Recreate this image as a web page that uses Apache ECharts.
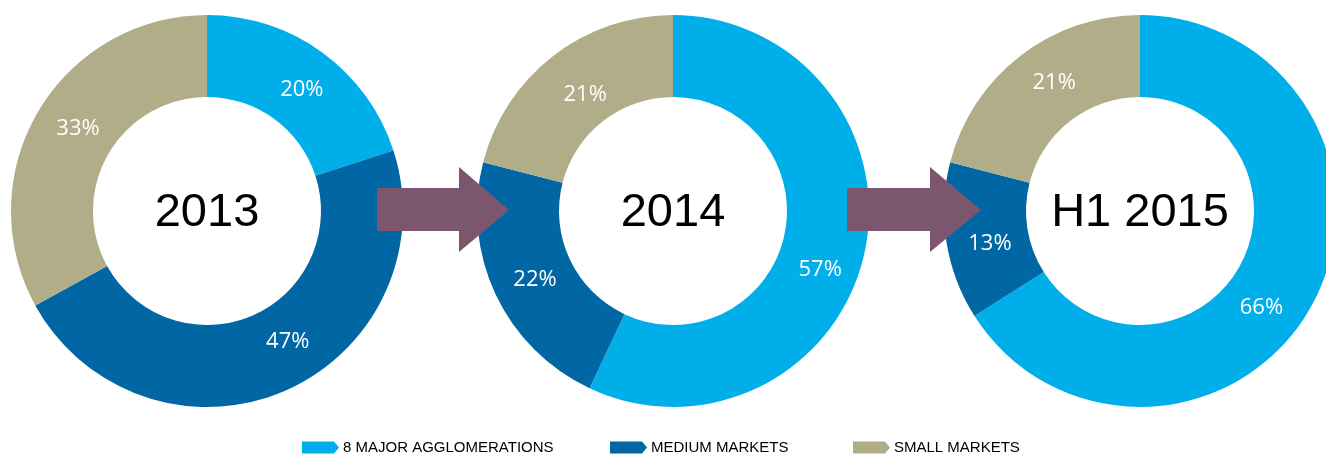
<!DOCTYPE html>
<html>
<head>
<meta charset="utf-8">
<script src="https://cdn.jsdelivr.net/npm/echarts@6/dist/echarts.min.js"></script>
<style>
html,body{margin:0;padding:0;background:#fff;}
#c{width:1326px;height:454px;}
</style>
</head>
<body>
<div id="c"></div>
<script>
// Data
var periods = ['2013', '2014', 'H1 2015'];
var segments = ['8 MAJOR AGGLOMERATIONS', 'MEDIUM MARKETS', 'SMALL MARKETS'];
var majorShare = [20, 57, 66];
var mediumShare = [47, 22, 13];
var smallShare = [33, 21, 21];

// Layout / style
var colors = ['#00AEE9', '#0067A4', '#B1AD89'];
var centersX = [207, 673, 1140];
var centerY = 211;
// small label nudges to follow the original placement [series][item] -> [dx, dy]
var labelNudge = [
  [[2, 7], [18, -14], [7, -2]],
  [[-7, 24], [5, 1], [9, 9]],
  [[-17, 21], [6, 8], [11, -3]]
];

var chart = echarts.init(document.getElementById('c'), null, {renderer: 'canvas'});

var series = periods.map(function (p, i) {
  return {
    type: 'pie',
    name: p,
    center: [centersX[i], centerY],
    radius: [114, 196],
    startAngle: 90,
    clockwise: true,
    avoidLabelOverlap: false,
    silent: true,
    label: {
      show: true,
      position: 'inside',
      formatter: '{c}%',
      color: '#ffffff',
      fontSize: 22,
      fontFamily: 'Open Sans, Noto Sans, sans-serif'
    },
    labelLayout: function (params) {
      var n = labelNudge[i][params.dataIndex];
      return {dx: n[0], dy: n[1]};
    },
    labelLine: {show: false},
    itemStyle: {borderWidth: 0},
    data: [
      {name: segments[0], value: majorShare[i], itemStyle: {color: colors[0]}},
      {name: segments[1], value: mediumShare[i], itemStyle: {color: colors[1]}},
      {name: segments[2], value: smallShare[i], itemStyle: {color: colors[2]}}
    ]
  };
});

var legendLeft = [302, 610, 853];
var legends = segments.map(function (s, i) {
  return {
    data: [s],
    left: legendLeft[i],
    top: 440,
    padding: 0,
    itemWidth: 37,
    itemHeight: 12,
    itemGap: 5,
    icon: 'path://M0,0 L32,0 L37,6 L32,12 L0,12 Z',
    selectedMode: false,
    textStyle: {
      color: '#000',
      fontSize: 15,
      padding: [0, 0, 0, -1],
      fontFamily: 'Liberation Sans, Arial, sans-serif'
    }
  };
});

function arrow(x0, xh, xt, cy) {
  return {
    type: 'polygon',
    silent: true,
    z: 100,
    shape: {points: [[x0, cy - 22], [xh, cy - 22], [xh, cy - 43], [xt, cy], [xh, cy + 42], [xh, cy + 21], [x0, cy + 21]]},
    style: {fill: '#7C566E'}
  };
}

var graphics = [arrow(377, 459, 509, 210), arrow(847, 930, 981, 210)];
periods.forEach(function (p, i) {
  graphics.push({
    type: 'text',
    silent: true,
    z: 100,
    x: centersX[i],
    y: 213,
    style: {
      text: p,
      fill: '#000',
      font: '47px "Liberation Sans", Arial, sans-serif',
      textAlign: 'center',
      textVerticalAlign: 'middle'
    }
  });
});

chart.setOption({
  animation: false,
  backgroundColor: '#ffffff',
  legend: legends,
  series: series,
  graphic: graphics
});
</script>
</body>
</html>
